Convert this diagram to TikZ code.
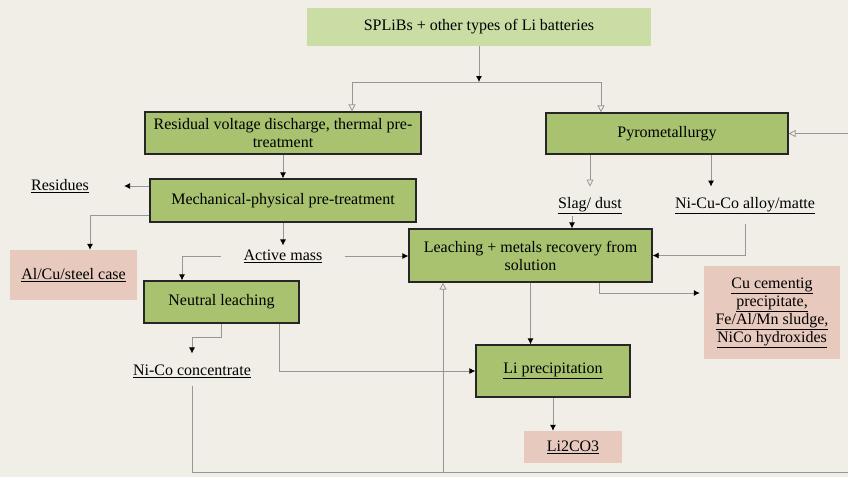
\documentclass[tikz,border=0pt]{standalone}
\usepackage{fontspec}
\setmainfont{Liberation Serif}
\usetikzlibrary{arrows.meta}

\definecolor{paper}{RGB}{240,238,231}
\definecolor{boxgreen}{RGB}{168,194,112}
\definecolor{topgreen}{RGB}{201,221,165}
\definecolor{pinkbox}{RGB}{231,201,190}
\definecolor{wire}{RGB}{150,150,150}

\tikzset{
	procbox/.style={draw=black!85,line width=1.3pt,fill=boxgreen,align=center,inner sep=1pt},
	outbox/.style={fill=pinkbox,align=center,inner sep=1pt},
	lbl/.style={align=center,inner sep=2pt},
	wireline/.style={draw=wire,line width=0.8pt},
	fwd/.style={wireline,-{Latex[black,length=6pt,width=6pt]}},
	back/.style={wireline,-{Triangle[open,length=7pt,width=7pt]}}
}

\begin{document}
\begin{tikzpicture}[x=1pt,y=-1pt,font=\fontsize{16}{18}\selectfont]
		\fill[paper] (0,0) rectangle (848,477);
		\useasboundingbox (0,0) rectangle (848,477);

		\begin{scope}
			\node[fill=topgreen,minimum width=344pt,minimum height=38pt] (top) at (479,27) {SPLiBs + other types of Li batteries};
			\node[procbox,minimum width=276pt,minimum height=42pt] (resid) at (283,133) {Residual voltage discharge, thermal pre-\\treatment};
			\node[procbox,minimum width=266pt,minimum height=43pt] (mech) at (283,200.5) {Mechanical-physical pre-treatment};
			\node[procbox,minimum width=242pt,minimum height=41pt] (pyro) at (667,133.5) {Pyrometallurgy};
			\node[procbox,minimum width=243pt,minimum height=53pt] (leach) at (530.5,255.5) {Leaching + metals recovery from\\solution};
			\node[procbox,minimum width=155pt,minimum height=42pt] (neut) at (221.5,302) {Neutral leaching};
			\node[procbox,minimum width=154pt,minimum height=52pt] (liprec) at (553,371) {\underline{Li precipitation}};

			\node[outbox,minimum width=127pt,minimum height=50pt] (alcu) at (73.5,275) {\underline{Al/Cu/steel case}};
			\node[outbox,minimum width=136pt,minimum height=93pt] (cubox) at (772,312.5) {\underline{Cu cementig}\\\underline{precipitate,}\\\underline{Fe/Al/Mn sludge,}\\\underline{NiCo hydroxides}};
			\node[outbox,minimum width=98pt,minimum height=32pt] (licarb) at (573,447) {\underline{Li2CO3}};

			\node[lbl] (res) at (60,186) {\underline{Residues}};
			\node[lbl] (act) at (283,256) {\underline{Active mass}};
			\node[lbl] (slag) at (590,206) {\underline{Slag/ dust}};
			\node[lbl] (nicu) at (745,206) {\underline{Ni-Cu-Co alloy/matte}};
			\node[lbl] (nico) at (192,371) {\underline{Ni-Co concentrate}};
		\end{scope}

		\coordinate (split) at (479,82);
		\coordinate (splitl) at (352,82);
		\coordinate (splitr) at (601,82);
		\coordinate (loop) at (443,472);

		% feed
		\draw[fwd] (top) -- (split);
		\draw[wireline] (splitl) -- (splitr);
		\draw[back] (splitl) -- (resid.north -| splitl);
		\draw[back] (splitr) -- (pyro.north -| splitr);

		% mechanical route
		\draw[fwd] (resid) -- (mech);
		\draw[fwd,shorten >=33pt] (mech.west |- res) -- (res);
		\draw[fwd] ([yshift=7pt]mech.west |- mech.south) -| ([xshift=16.5pt]alcu.north);
		\draw[fwd,shorten >=2pt] (mech) -- (act);
		\draw[fwd,shorten <=20pt] (act.west) -| ([xshift=-39.5pt]neut.north);
		\draw[fwd,shorten <=20pt] (act.east) -- (leach.west |- act);
		\draw[fwd,shorten >=9pt] (neut.south) -- ++(0,14) -| (nico.north);
		\draw[fwd] ([xshift=57.5pt]neut.south) |- (liprec.west);

		% recycle loop
		\draw[back,shorten <=6pt] (nico.south) |- (loop) -- (leach.south -| loop);
		\draw[back] (loop) -- ++(440,0) |- (pyro.east);

		% pyrometallurgy
		\draw[back,shorten >=9pt] (pyro.south -| slag) -- (slag);
		\draw[fwd,shorten >=9pt] ([xshift=44pt]pyro.south) -- ([xshift=-34pt]nicu.north);
		\draw[fwd] ([xshift=-18pt]slag.south) -- ([xshift=41.5pt]leach.north);
		\draw[fwd,shorten <=8pt] (nicu.south) |- (leach.east);

		% hydrometallurgy
		\draw[fwd,shorten >=4pt] ([xshift=68.5pt]leach.south) |- ([yshift=19.5pt]cubox.west);
		\draw[fwd] (leach.south) -- (liprec.north -| leach.south);
		\draw[fwd] (liprec.south) -- (licarb.north -| liprec.south);
		\end{tikzpicture}
\end{document}
